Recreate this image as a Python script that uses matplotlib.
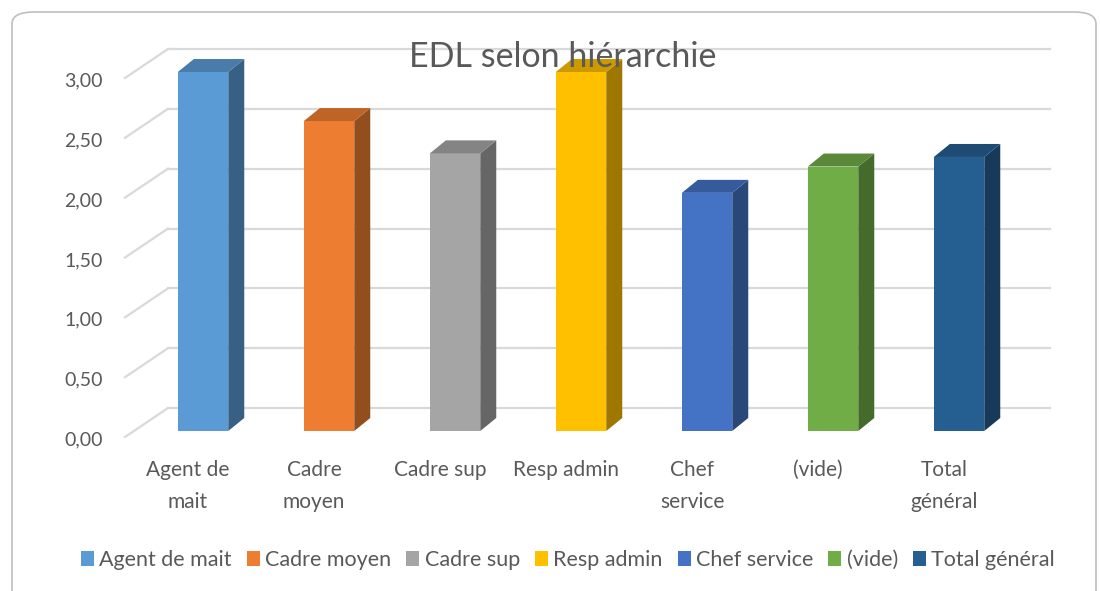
import matplotlib
matplotlib.use("Agg")
import matplotlib.pyplot as plt
from matplotlib.patches import Polygon, Patch, FancyBboxPatch
from matplotlib.lines import Line2D
from matplotlib.transforms import offset_copy
import matplotlib.colors as mcolors

# ---- data ----
categories = ["Agent de\nmait", "Cadre\nmoyen", "Cadre sup", "Resp admin",
              "Chef\nservice", "(vide)", "Total\ngénéral"]
legend_labels = ["Agent de mait", "Cadre moyen", "Cadre sup", "Resp admin",
                 "Chef service", "(vide)", "Total général"]
values = [3.00, 2.59, 2.32, 3.00, 1.99, 2.21, 2.29]
colors = ["#5B9BD5", "#ED7D31", "#A5A5A5", "#FFC000", "#4472C4", "#70AD47", "#255E91"]
yticks = [0.0, 0.5, 1.0, 1.5, 2.0, 2.5, 3.0]
ytick_labels = ["0,00", "0,50", "1,00", "1,50", "2,00", "2,50", "3,00"]
title = "EDL selon hiérarchie"

plt.rcParams["font.family"] = ["Lato", "DejaVu Sans"]
TXT = "#595959"
GRID = "#D9D9D9"

W, H, DPI = 1100, 591, 100
fig = plt.figure(figsize=(W / DPI, H / DPI), dpi=DPI)

# outer rounded border
border = FancyBboxPatch((12 / W, -0.05), (1096 - 12) / W, (591 - 12) / H + 0.05,
                        boxstyle="round,pad=0,rounding_size=0.02",
                        transform=fig.transFigure, facecolor="none",
                        edgecolor="#BFBFBF", linewidth=1.2, zorder=0)
fig.patches.append(border)

# axes in the bar-front plane
left_px, right_px = 133, 1015
bottom_px, top_px = 431, 72
ax = fig.add_axes([left_px / W, 1 - bottom_px / H, (right_px - left_px) / W,
                   (bottom_px - top_px) / H])
ax.set_xlim(-0.556, 6.444)
ax.set_ylim(0, 3.0)
ax.axis("off")
ax.patch.set_alpha(0)

px_per_x = (right_px - left_px) / 7.0
px_per_y = (bottom_px - top_px) / 3.0

back = offset_copy(ax.transData, fig=fig, x=35, y=23, units="dots")
front = offset_copy(ax.transData, fig=fig, x=-8, y=-6, units="dots")
ylab_tr = offset_copy(ax.transData, fig=fig, x=-30, y=-9, units="dots")

x0, x1 = ax.get_xlim()
for yv, lab in zip(yticks, ytick_labels):
    ax.add_line(Line2D([x0, x1], [yv, yv], transform=back, color=GRID, lw=1.6,
                       zorder=1, clip_on=False))
    p_front = front.transform((x0, yv))
    p_back = back.transform((x0, yv))
    fig.add_artist(Line2D([p_front[0] / W, p_back[0] / W],
                          [p_front[1] / H, p_back[1] / H],
                          transform=fig.transFigure, color=GRID, lw=1.6, zorder=1))
    ax.text(x0, yv, lab, transform=ylab_tr, ha="right", va="center",
            fontsize=14, color=TXT)


def shade(c, f):
    r, g, b = mcolors.to_rgb(c)
    return (r * f, g * f, b * f)


bw = 0.4
ddx = 16 / px_per_x
ddy = 13 / px_per_y
cat_tr = offset_copy(ax.transData, fig=fig, x=-15, y=-29, units="dots")
for i, (v, c) in enumerate(zip(values, colors)):
    ax.bar(i, v, width=bw, color=c, zorder=3, clip_on=False)
    xr = i + bw / 2
    xl = i - bw / 2
    side = Polygon([(xr, 0), (xr + ddx, ddy), (xr + ddx, v + ddy), (xr, v)],
                   closed=True, facecolor=shade(c, 0.62), edgecolor="none",
                   zorder=3, clip_on=False)
    top = Polygon([(xl, v), (xr, v), (xr + ddx, v + ddy), (xl + ddx, v + ddy)],
                  closed=True, facecolor=shade(c, 0.8), edgecolor="none",
                  zorder=3, clip_on=False)
    ax.add_patch(side)
    ax.add_patch(top)
    ax.text(i, 0, categories[i], transform=cat_tr, ha="center", va="top",
            fontsize=15, color=TXT, linespacing=1.75)

fig.text(563 / W, 1 - 57 / H, title, ha="center", va="center", fontsize=24.5,
         color=TXT, zorder=5)

handles = [Patch(facecolor=c, edgecolor="none") for c in colors]
fig.legend(handles, legend_labels, loc="center", bbox_to_anchor=(568 / W, 1 - 560 / H),
           ncol=7, frameon=False, fontsize=15.5, handlelength=0.6, handleheight=0.75,
           handletextpad=0.25, columnspacing=0.7, labelcolor=TXT)

fig.savefig("out.png", dpi=DPI)
